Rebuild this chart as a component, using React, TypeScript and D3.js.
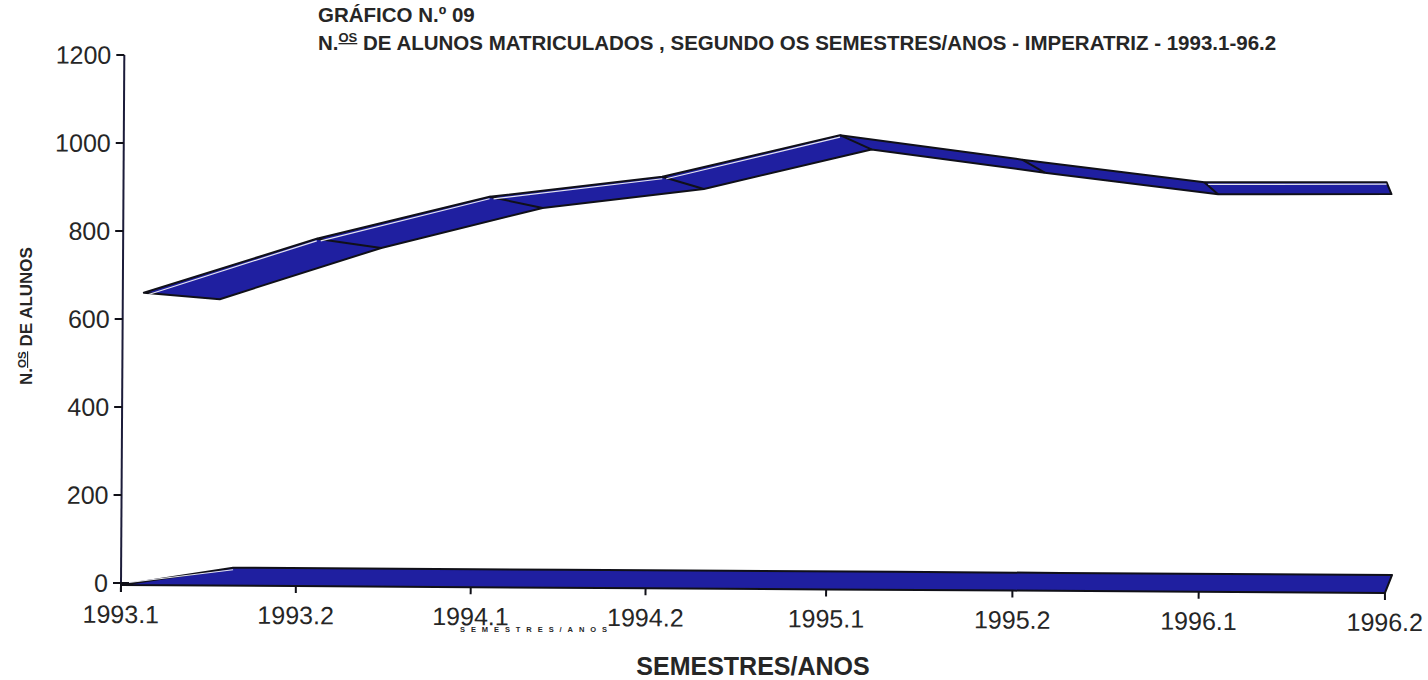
import React from "react";
import * as d3 from "d3";

const categories = ["1993.1", "1993.2", "1994.1", "1994.2", "1995.1", "1995.2", "1996.1", "1996.2"];
const enrolled = [660, 785, 883, 931, 1028, 975, 926, 929];
const zeroSeries = [0, 0, 0, 0, 0, 0, 0, 0];
const yTicks = [0, 200, 400, 600, 800, 1000, 1200];

const titleLine1 = "GRÁFICO N.º 09";
const titleLine2Rest = " DE ALUNOS MATRICULADOS , SEGUNDO OS SEMESTRES/ANOS - IMPERATRIZ - 1993.1-96.2";
const xTitle = "SEMESTRES/ANOS";
const yTitleRest = " DE ALUNOS";

const W = 1428;
const H = 680;
const FONT = "'Liberation Sans', Arial, Helvetica, sans-serif";
const TEXT = "#262626";
const BLUE = "#1f1fa0";
const INK = "#101018";

export default function App() {
  const n = categories.length;
  const idx = d3.range(n);

  // category positions (scan is slightly stretched, so polylinear)
  const x = d3.scaleLinear().domain([0, (n - 1) / 2, n - 1]).range([121, 733, 1385]);
  const xBack = d3.scaleLinear().domain([0, (n - 1) / 2, n - 1]).range([142, 746, 1384]);
  const xFront = d3.scaleLinear().domain([0, (n - 1) / 2, n - 1]).range([218, 782, 1389]);
  const xZeroBack = d3.scaleLinear().domain([0, n - 1]).range([233, 1392]);

  const y = d3.scaleLinear().domain([0, 1200]).range([583, 55]);
  const yFront = d3.scaleLinear().domain([0, 1200]).range([574.5, 72.8]);

  const ribbon = d3
    .area<number>()
    .x1((i) => xBack(i))
    .y1((i) => y(enrolled[i]))
    .x0((i) => xFront(i))
    .y0((i) => yFront(enrolled[i]));

  const zeroRibbon = d3
    .area<number>()
    .x1((i) => xZeroBack(i))
    .y1((i) => y(zeroSeries[i]) - 16)
    .x0((i) => x(i))
    .y0((i) => y(zeroSeries[i]) + 2);

  const line = d3.line<[number, number]>();

  const folds = idx.slice(1, n - 1).map((i) =>
    line([
      [xBack(i), y(enrolled[i])],
      [xFront(i), yFront(enrolled[i])],
    ])
  );

  // highlight on rising faces
  const highlights = idx
    .slice(0, n - 1)
    .filter((i) => enrolled[i + 1] >= enrolled[i])
    .map((i) =>
      line([
        [xBack(i) + 4, y(enrolled[i]) + 2],
        [xBack(i + 1), y(enrolled[i + 1]) + 2],
      ])
    );

  return (
    <svg
      width={W}
      height={H}
      style={{ position: "absolute", left: 0, top: 0, background: "#fff" }}
      fontFamily={FONT}
    >
      <rect x={0} y={0} width={W} height={H} fill="#fff" />

      {/* Titles */}
      <text x={318} y={22} fontSize={20.5} fontWeight="bold" fill={TEXT}>
        {titleLine1}
      </text>
      <text x={318} y={50} fontSize={20.5} fontWeight="bold" fill={TEXT}>
        N.
        <tspan fontSize={13} dy={-8} textDecoration="underline">OS</tspan>
        <tspan dy={8}>{titleLine2Rest}</tspan>
      </text>

      {/* Y title */}
      <text
        transform="translate(32,316) rotate(-90)"
        textAnchor="middle"
        fontSize={17}
        fontWeight="bold"
        fill={TEXT}
      >
        N.
        <tspan fontSize={11.5} dy={-6} textDecoration="underline">OS</tspan>
        <tspan dy={6}>{yTitleRest}</tspan>
      </text>

      {/* X title */}
      <text x={753} y={675} textAnchor="middle" fontSize={25} fontWeight="bold" fill={TEXT}>
        {xTitle}
      </text>
      <text
        x={460}
        y={632}
        fontSize={7.5}
        fontWeight="bold"
        fill={TEXT}
        textLength={147}
        lengthAdjust="spacing"
      >
        {xTitle}
      </text>

      <g transform="rotate(0.36 121 583)">
        {/* Y axis */}
        <line x1={121} x2={121} y1={y(1200)} y2={y(0) + 9} stroke="#1c1c3a" strokeWidth={2} />
        {yTicks.map((t) => (
          <g key={t}>
            <line x1={113} x2={121} y1={y(t)} y2={y(t)} stroke={INK} strokeWidth={2} />
            <text x={108} y={y(t)} dy="0.36em" textAnchor="end" fontSize={25} fill={TEXT}>
              {t}
            </text>
          </g>
        ))}

        {/* X axis */}
        <line x1={121} x2={x(n - 1)} y1={y(0)} y2={y(0)} stroke={INK} strokeWidth={2} />
        {idx.map((i) => (
          <g key={categories[i]}>
            <line x1={x(i)} x2={x(i)} y1={y(0)} y2={y(0) + 9} stroke={INK} strokeWidth={2} />
            <text x={x(i)} y={623} textAnchor="middle" fontSize={25} fill={TEXT}>
              {categories[i]}
            </text>
          </g>
        ))}

        {/* zero series ribbon */}
        <path d={zeroRibbon(idx) || ""} fill={BLUE} stroke={INK} strokeWidth={2} strokeLinejoin="round" />
        <path
          d={
            line([
              [x(0) + 8, y(0) - 0.5],
              [xZeroBack(0), y(0) - 14],
            ]) || ""
          }
          stroke="#e4e4ee"
          strokeWidth={1}
          fill="none"
        />

        {/* main ribbon */}
        <path d={ribbon(idx) || ""} fill={BLUE} stroke={INK} strokeWidth={2} strokeLinejoin="round" />
        {folds.map((d, k) => (
          <path key={"f" + k} d={d || ""} stroke={INK} strokeWidth={2} fill="none" />
        ))}
        {highlights.map((d, k) => (
          <path key={"h" + k} d={d || ""} stroke="#e4e4ee" strokeWidth={1.2} fill="none" />
        ))}
      </g>
    </svg>
  );
}
